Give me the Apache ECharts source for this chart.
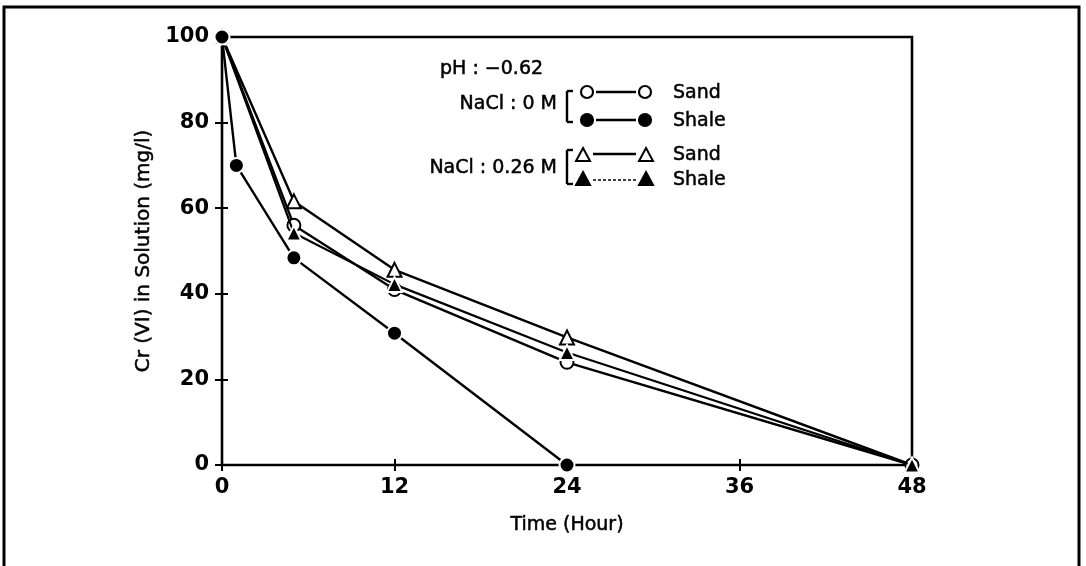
<!DOCTYPE html>
<html>
<head>
<meta charset="utf-8">
<style>
  html, body { margin: 0; padding: 0; background: #fff; }
  #chart { width: 1086px; height: 566px; }
</style>
<script src="https://cdn.jsdelivr.net/npm/echarts@6/dist/echarts.min.js"></script>
</head>
<body>
<div id="chart"></div>
<script>
// ---- data ----
var xTicks = [0, 12, 24, 36, 48];
var yTicks = [0, 20, 40, 60, 80, 100];
var timeSand = [0, 5, 12, 24, 48];
var timeShale0 = [0, 1, 5, 12, 24];
var sand0M = [100, 56, 41, 24, 0];          // open circles
var shale0M = [100, 70, 48.4, 30.8, 0];     // filled circles
var sand026M = [100, 61.6, 45.6, 29.8, 0];  // open triangles
var shale026M = [100, 54.2, 42.2, 26.3, 0]; // filled triangles
var legendRows = ['Sand', 'Shale', 'Sand', 'Shale'];
var legendGroups = ['NaCl : 0 M', 'NaCl : 0.26 M'];
var phText = 'pH : \u22120.62';
var xName = 'Time (Hour)';
var yName = 'Cr (VI) in Solution (mg/l)';

function pairs(xs, ys) { return xs.map(function (x, i) { return [x, ys[i]]; }); }

var FONT = 'DejaVu Sans';
var chart = echarts.init(document.getElementById('chart'), null, { renderer: 'canvas' });

function lineSeries(name, xs, ys, symbol, size, lw, z, filled) {
  return {
    name: name, type: 'line', data: pairs(xs, ys),
    symbol: symbol, symbolSize: size, showAllSymbol: true,
    lineStyle: { color: '#000', width: lw },
    itemStyle: filled ? { color: '#000', borderColor: '#fff', borderWidth: 2 }
                      : { color: '#000', borderColor: '#000', borderWidth: 2.2 },
    z: z, animation: false, silent: true
  };
}

// legend decoration
var L = [];
var TXT_FONT = '19px "' + FONT + '"';
function txt(x, y, s, align) {
  L.push({ type: 'text', x: x, y: y, style: { text: s, font: TXT_FONT, fill: '#000', align: align || 'left', verticalAlign: 'middle', stroke: '#000', lineWidth: 0.5 } });
}
function circ(x, y, filled) {
  L.push({ type: 'circle', shape: { cx: x, cy: y, r: 6 }, style: { fill: filled ? '#000' : '#fff', stroke: '#000', lineWidth: 2.2 } });
}
function tri(x, y, filled) {
  L.push({ type: 'polygon', shape: { points: [[x, y - 7], [x + 7, y + 6], [x - 7, y + 6]] }, style: { fill: filled ? '#000' : '#fff', stroke: '#000', lineWidth: 2 } });
}
function seg(x1, y1, x2, y2, dash, lw) {
  L.push({ type: 'line', shape: { x1: x1, y1: y1, x2: x2, y2: y2 }, style: { stroke: '#000', lineWidth: lw || 2.4, lineDash: dash || null } });
}
function bracket(x, y1, y2) {
  seg(x + 6, y1, x, y1); seg(x, y1, x, y2); seg(x, y2, x + 6, y2);
}
txt(440, 69, phText);
txt(557, 104, legendGroups[0], 'right');
bracket(567, 91, 122);
seg(596, 92, 636, 92); circ(587, 92, false); circ(645, 92, false); txt(673, 93, legendRows[0]);
seg(596, 120, 636, 120); circ(587, 120, true); circ(645, 120, true); txt(673, 121, legendRows[1]);
txt(557, 168, legendGroups[1], 'right');
bracket(567, 150, 184);
seg(593, 154, 636, 154); tri(583, 155, false); tri(646, 155, false); txt(673, 155, legendRows[2]);
seg(593, 180, 636, 180, [3, 2], 1.6); tri(583, 179, true); tri(646, 179, true); txt(673, 180, legendRows[3]);
// outer frame
L.push({ type: 'rect', shape: { x: 4, y: 7, width: 1075, height: 570 }, style: { fill: null, stroke: '#000', lineWidth: 3 }, z: -10 });

var axisFont = { fontFamily: FONT, fontSize: 21, fontWeight: 'bold', color: '#000' };
var nameFont = { fontFamily: FONT, fontSize: 19, color: '#000', textBorderColor: '#000', textBorderWidth: 0.5 };
var option = {
  backgroundColor: '#fff',
  animation: false,
  grid: { left: 222, right: 174, top: 37, bottom: 101, show: true, borderColor: '#000', borderWidth: 2.6, backgroundColor: 'transparent' },
  xAxis: {
    type: 'value', min: xTicks[0], max: xTicks[xTicks.length - 1], interval: 12,
    offset: -6,
    name: xName, nameLocation: 'middle', nameGap: 57,
    nameTextStyle: nameFont,
    axisLine: { show: false },
    axisTick: { show: true, inside: false, length: 12, lineStyle: { color: '#000', width: 2 } },
    axisLabel: Object.assign({ margin: 18 }, axisFont),
    splitLine: { show: false }
  },
  yAxis: {
    type: 'value', min: yTicks[0], max: yTicks[yTicks.length - 1], interval: 20,
    offset: -6,
    name: yName, nameLocation: 'middle', nameGap: 69, nameRotate: 90,
    nameTextStyle: Object.assign({}, nameFont, { fontSize: 20 }),
    axisLine: { show: false },
    axisTick: { show: true, inside: false, length: 13, lineStyle: { color: '#000', width: 2 } },
    axisLabel: Object.assign({ margin: 19 }, axisFont),
    splitLine: { show: false }
  },
  series: [
    lineSeries('Sand 0 M', timeSand, sand0M, 'emptyCircle', 13, 2.4, 3, false),
    lineSeries('Shale 0.26 M', timeSand, shale026M, 'triangle', 15, 2.2, 4, true),
    lineSeries('Sand 0.26 M', timeSand, sand026M, 'emptyTriangle', 14, 2.4, 2, false),
    lineSeries('Shale 0 M', timeShale0, shale0M, 'circle', 15, 2.4, 5, true)
  ],
  graphic: L
};
chart.setOption(option);
</script>
</body>
</html>
